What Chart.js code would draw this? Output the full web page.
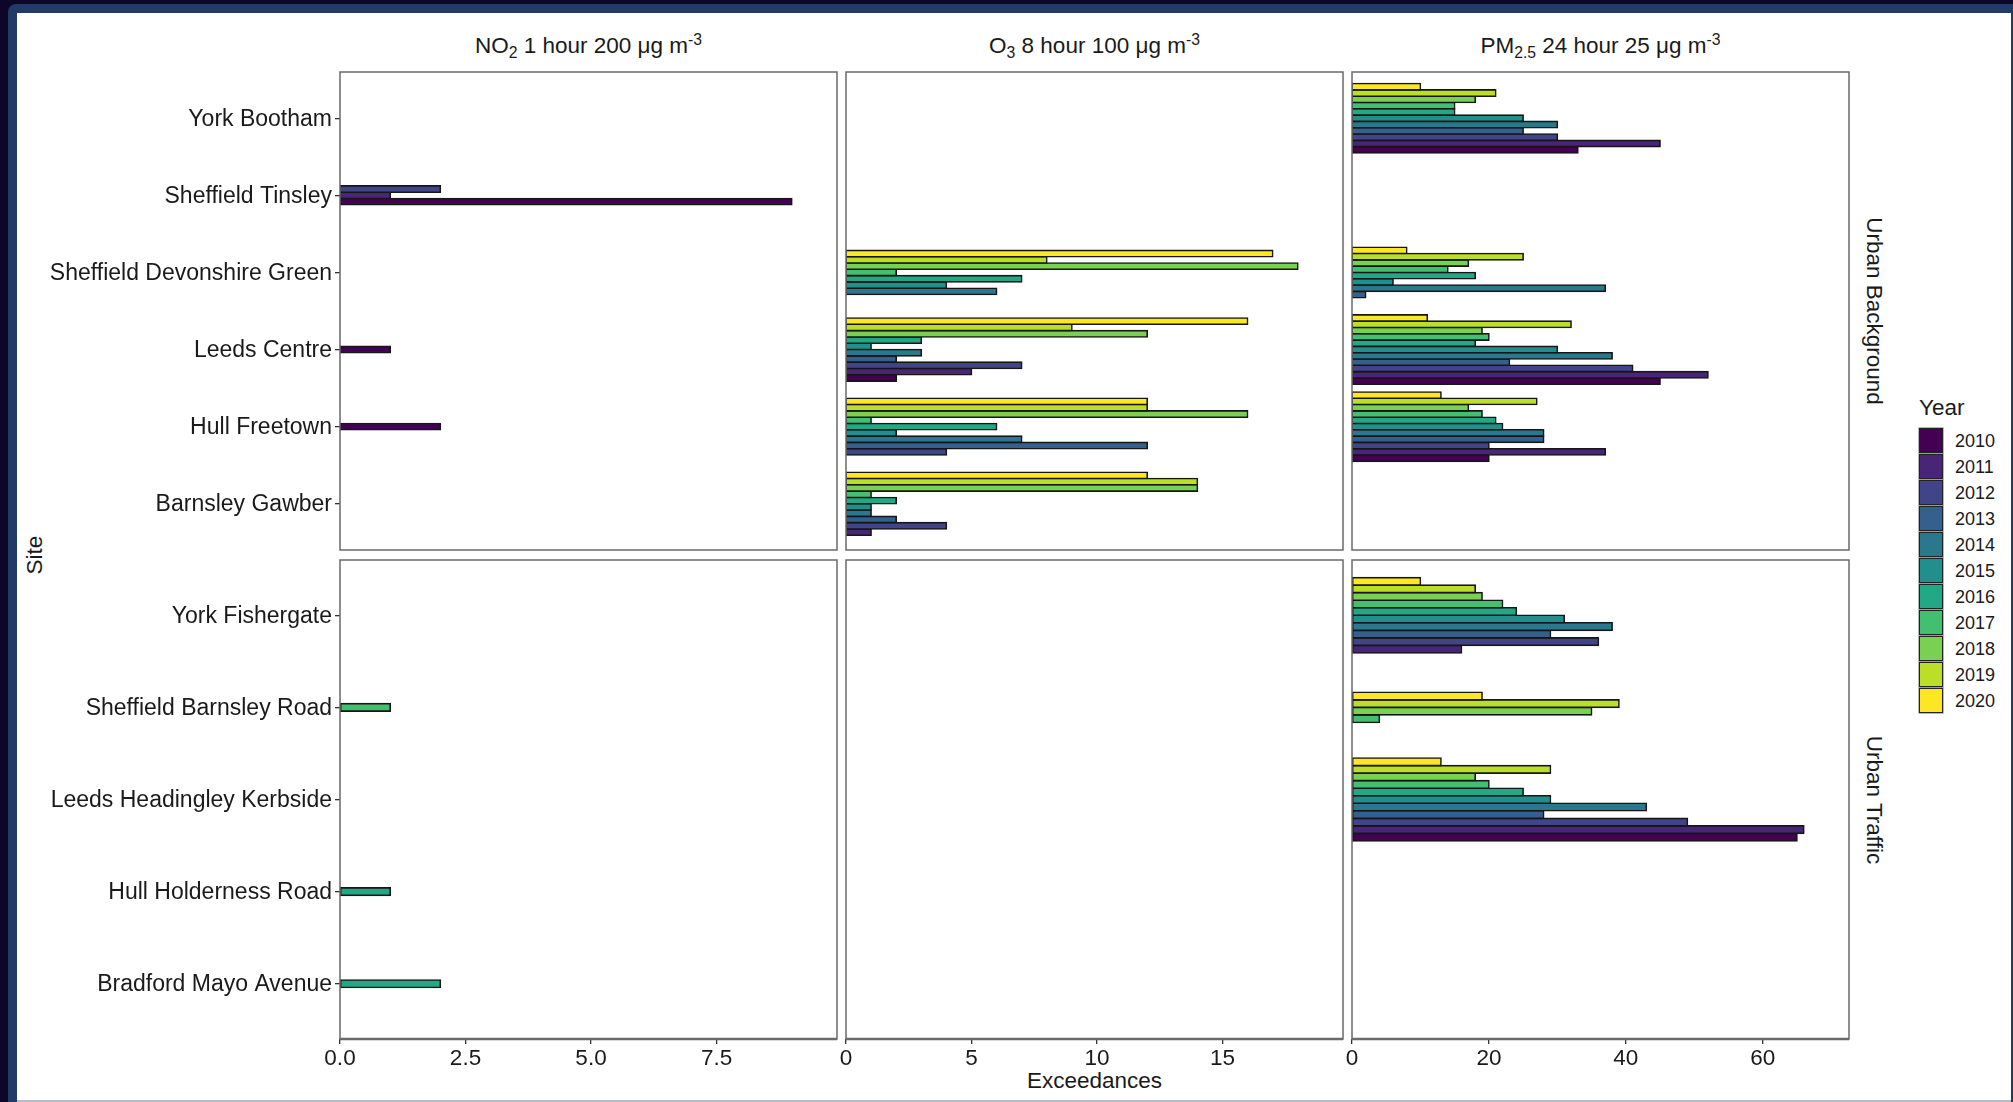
<!DOCTYPE html>
<html>
<head>
<meta charset="utf-8">
<title>Exceedances by site, pollutant and year</title>
<script src="https://cdn.jsdelivr.net/npm/chart.js@4.4.1/dist/chart.umd.min.js"></script>
<style>
  html, body { margin: 0; padding: 0; }
  body {
    width: 2013px; height: 1102px; position: relative; overflow: hidden;
    background: #0e0629;
    font-family: "Liberation Sans", Arial, sans-serif; color: #1a1a1a;
  }
  #band { position: absolute; left: 8px; top: 4px; width: 2005px; height: 1098px; background: #213a66; border-top-left-radius: 8px; }
  #page { position: absolute; left: 17px; top: 13px; width: 1994px; height: 1087px; background: #ffffff; }
  #rule { position: absolute; left: 17px; top: 1100px; width: 1994px; height: 2px; background: #b3bcc7; }
  canvas { position: absolute; }
  .lbl { position: absolute; font-size: 22.5px; line-height: 1; white-space: nowrap; transform: translate(-50%, -50%); }
  .lbl.cw { transform: translate(-50%, -50%) rotate(90deg); }
  .lbl.ccw { transform: translate(-50%, -50%) rotate(-90deg); }
  .lo { font-size: 0.7em; position: relative; top: 0.3em; }
  .hi { font-size: 0.7em; position: relative; top: -0.5em; }
  .key { position: absolute; width: 24px; height: 25px; box-sizing: border-box; border: 1.5px solid #222; box-shadow: 0 0 0 0.6px #8a8a8a; }
  .keylbl { position: absolute; font-size: 18px; line-height: 1; transform: translateY(-50%); }
  .legtitle { position: absolute; font-size: 22.5px; line-height: 1; transform: translateY(-50%); }
</style>
</head>
<body>
<div id="band"></div>
<div id="page"></div>
<div id="rule"></div>

<div class="lbl" style="left:588.5px; top:46px;">NO<span class="lo">2</span> 1 hour 200 μg m<span class="hi">-3</span></div>
<div class="lbl" style="left:1094.5px; top:46px;">O<span class="lo">3</span> 8 hour 100 μg m<span class="hi">-3</span></div>
<div class="lbl" style="left:1600.5px; top:46px;">PM<span class="lo">2.5</span> 24 hour 25 μg m<span class="hi">-3</span></div>
<div class="lbl cw" style="left:1874px; top:311px;">Urban Background</div>
<div class="lbl cw" style="left:1874px; top:799.5px;">Urban Traffic</div>
<div class="lbl ccw" style="left:35px; top:555px;">Site</div>
<div class="lbl" style="left:1094.5px; top:1081px;">Exceedances</div>
<div id="legend"></div>

<script>
// Years and their viridis fill colours
const years = [2010, 2011, 2012, 2013, 2014, 2015, 2016, 2017, 2018, 2019, 2020];
const yearColours = ['#440154', '#482576', '#414487', '#35608D', '#2A788E', '#21908C',
                     '#22A884', '#43BF71', '#7AD151', '#BBDF27', '#FDE725'];

// Sites, listed from the bottom of each panel row to the top
const backgroundSites = ['Barnsley Gawber', 'Hull Freetown', 'Leeds Centre',
                         'Sheffield Devonshire Green', 'Sheffield Tinsley', 'York Bootham'];
const trafficSites = ['Bradford Mayo Avenue', 'Hull Holderness Road', 'Leeds Headingley Kerbside',
                      'Sheffield Barnsley Road', 'York Fishergate'];

const n = null; // no exceedance recorded / not monitored

// Exceedance counts: one row per site (same order as the site lists), one column per year 2010-2020
const no2Background = [
  [n, n, n, n, n, n, n, n, n, n, n],
  [2, n, n, n, n, n, n, n, n, n, n],
  [1, n, n, n, n, n, n, n, n, n, n],
  [n, n, n, n, n, n, n, n, n, n, n],
  [9, 1, 2, n, n, n, n, n, n, n, n],
  [n, n, n, n, n, n, n, n, n, n, n]
];
const o3Background = [
  [n, 1, 4, 2, 1, 1, 2, 1, 14, 14, 12],
  [n, n, 4, 12, 7, 2, 6, 1, 16, 12, 12],
  [2, 5, 7, 2, 3, 1, 3, n, 12, 9, 16],
  [n, n, n, n, 6, 4, 7, 2, 18, 8, 17],
  [n, n, n, n, n, n, n, n, n, n, n],
  [n, n, n, n, n, n, n, n, n, n, n]
];
const pm25Background = [
  [n, n, n, n, n, n, n, n, n, n, n],
  [20, 37, 20, 28, 28, 22, 21, 19, 17, 27, 13],
  [45, 52, 41, 23, 38, 30, 18, 20, 19, 32, 11],
  [n, n, n, 2, 37, 6, 18, 14, 17, 25, 8],
  [n, n, n, n, n, n, n, n, n, n, n],
  [33, 45, 30, 25, 30, 25, 15, 15, 18, 21, 10]
];
const no2Traffic = [
  [n, n, n, n, n, n, 2, n, n, n, n],
  [n, n, n, n, n, n, 1, n, n, n, n],
  [n, n, n, n, n, n, n, n, n, n, n],
  [n, n, n, n, n, n, n, 1, n, n, n],
  [n, n, n, n, n, n, n, n, n, n, n]
];
const o3Traffic = [
  [n, n, n, n, n, n, n, n, n, n, n],
  [n, n, n, n, n, n, n, n, n, n, n],
  [n, n, n, n, n, n, n, n, n, n, n],
  [n, n, n, n, n, n, n, n, n, n, n],
  [n, n, n, n, n, n, n, n, n, n, n]
];
const pm25Traffic = [
  [n, n, n, n, n, n, n, n, n, n, n],
  [n, n, n, n, n, n, n, n, n, n, n],
  [65, 66, 49, 28, 43, 29, 25, 20, 18, 29, 13],
  [n, n, n, n, n, n, n, 4, 35, 39, 19],
  [n, 16, 36, 29, 38, 31, 24, 22, 19, 18, 10]
];

// Exceedance axis ticks and limits for each pollutant column
const no2Ticks = [0, 2.5, 5, 7.5];
const no2TickLabels = ['0.0', '2.5', '5.0', '7.5'];
const o3Ticks = [0, 5, 10, 15];
const o3TickLabels = ['0', '5', '10', '15'];
const pm25Ticks = [0, 20, 40, 60];
const pm25TickLabels = ['0', '20', '40', '60'];
const no2Max = 9.9, o3Max = 19.8, pm25Max = 72.6;

// ---- layout ----
const FONT = '"Liberation Sans", Arial, sans-serif';
Chart.defaults.font.family = FONT;
Chart.defaults.font.size = 22.5;
Chart.defaults.color = '#1a1a1a';

const colEdges = [[340, 837], [846, 1343], [1352, 1849]];
const rowEdges = [[72, 550], [560, 1039]];
const AXIS_H = 36;
const PAGE_LEFT = 17;
const OUTLINE = 1.6;     // bar outline width, centred on the bar edge
const SITE_PAD = 0.6;    // space above the top site and below the bottom one, in site units

// Panel outline drawn over the bars
const panelFrame = {
  id: 'panelFrame',
  afterDatasetsDraw(chart, args, opts) {
    const { ctx, chartArea: a } = chart;
    ctx.save();
    ctx.strokeStyle = '#6a6a6a';
    ctx.lineWidth = 1.5;
    ctx.strokeRect(a.left, a.top, a.right - a.left, a.bottom - a.top);
    if (opts.heavyBottom) {
      ctx.lineWidth = 2.6;
      ctx.beginPath();
      ctx.moveTo(a.left, a.bottom);
      ctx.lineTo(a.right, a.bottom);
      ctx.stroke();
    }
    ctx.restore();
  }
};

function zeroPadding(s) {
  s.paddingLeft = 0; s.paddingRight = 0; s.paddingTop = 0; s.paddingBottom = 0;
}

function drawPanel(col, row, sites, counts, xMax, ticks, tickLabels) {
  const [left, right] = colEdges[col];
  const [top, bottom] = rowEdges[row];
  const showY = col === 0;
  const showX = row === 1;
  const cl = showY ? PAGE_LEFT : left - 12;
  const ct = top - 4;
  const cr = right + 12;
  const cb = showX ? bottom + AXIS_H : bottom + 4;

  const canvas = document.createElement('canvas');
  canvas.width = cr - cl;
  canvas.height = cb - ct;
  canvas.style.left = cl + 'px';
  canvas.style.top = ct + 'px';
  canvas.style.width = (cr - cl) + 'px';
  canvas.style.height = (cb - ct) + 'px';
  document.body.appendChild(canvas);

  // every bar gets the same share of a site slot, groups centred on the site
  const siteSpan = (sites.length - 1) + 2 * SITE_PAD;
  const thickness = 0.9 / years.length * (bottom - top) / siteSpan;

  const datasets = years.map((yr, yi) => ({
    label: String(yr),
    data: sites.map((s, si) => ({ x: counts[si][yi], y: si + 1 })),
    backgroundColor: yearColours[yi],
    borderColor: '#161616',
    borderWidth: OUTLINE,
    inflateAmount: OUTLINE / 2,
    borderSkipped: false,
    barThickness: thickness,
    skipNull: true
  })).reverse(); // latest year sits on top within each group

  const tickGrid = {
    display: true, drawOnChartArea: false, drawTicks: true,
    tickLength: 5, color: '#333333', lineWidth: 1.3, offset: false
  };

  new Chart(canvas, {
    type: 'bar',
    data: { datasets },
    options: {
      indexAxis: 'y',
      responsive: false,
      animation: false,
      devicePixelRatio: 1,
      layout: {
        padding: {
          left: showY ? 0 : 12,
          right: 12,
          top: 4,
          bottom: showX ? 0 : 4
        }
      },
      scales: {
        x: {
          type: 'linear', min: 0, max: xMax, bounds: 'data', offset: false,
          display: showX,
          grid: tickGrid,
          border: { display: false },
          ticks: {
            padding: 1, autoSkip: false, maxRotation: 0,
            callback: (v, i) => tickLabels[i]
          },
          afterBuildTicks: s => { s.ticks = ticks.map(v => ({ value: v })); },
          afterFit: s => { if (showX) s.height = AXIS_H; zeroPadding(s); }
        },
        y: {
          type: 'linear', min: 1 - SITE_PAD, max: sites.length + SITE_PAD, bounds: 'data', offset: false,
          display: showY,
          grid: tickGrid,
          border: { display: false },
          ticks: {
            padding: 3, autoSkip: false, labelOffset: 1,
            font: { size: 23 },
            callback: (v, i) => sites[i]
          },
          afterBuildTicks: s => { s.ticks = sites.map((_, i) => ({ value: i + 1 })); },
          afterFit: s => { if (showY) s.width = left - cl; zeroPadding(s); }
        }
      },
      plugins: {
        legend: { display: false },
        tooltip: { enabled: false },
        panelFrame: { heavyBottom: showX }
      }
    },
    plugins: [panelFrame]
  });
}

drawPanel(0, 0, backgroundSites, no2Background, no2Max, no2Ticks, no2TickLabels);
drawPanel(1, 0, backgroundSites, o3Background, o3Max, o3Ticks, o3TickLabels);
drawPanel(2, 0, backgroundSites, pm25Background, pm25Max, pm25Ticks, pm25TickLabels);
drawPanel(0, 1, trafficSites, no2Traffic, no2Max, no2Ticks, no2TickLabels);
drawPanel(1, 1, trafficSites, o3Traffic, o3Max, o3Ticks, o3TickLabels);
drawPanel(2, 1, trafficSites, pm25Traffic, pm25Max, pm25Ticks, pm25TickLabels);

// Year legend
const legend = document.getElementById('legend');
const title = document.createElement('div');
title.className = 'legtitle';
title.style.left = '1919px';
title.style.top = '408px';
title.textContent = 'Year';
legend.appendChild(title);
years.forEach((yr, i) => {
  const key = document.createElement('div');
  key.className = 'key';
  key.style.left = '1919px';
  key.style.top = (428 + 26 * i) + 'px';
  key.style.background = yearColours[i];
  legend.appendChild(key);
  const lab = document.createElement('div');
  lab.className = 'keylbl';
  lab.style.left = '1955px';
  lab.style.top = (428 + 26 * i + 12.5) + 'px';
  lab.textContent = String(yr);
  legend.appendChild(lab);
});
</script>
</body>
</html>
